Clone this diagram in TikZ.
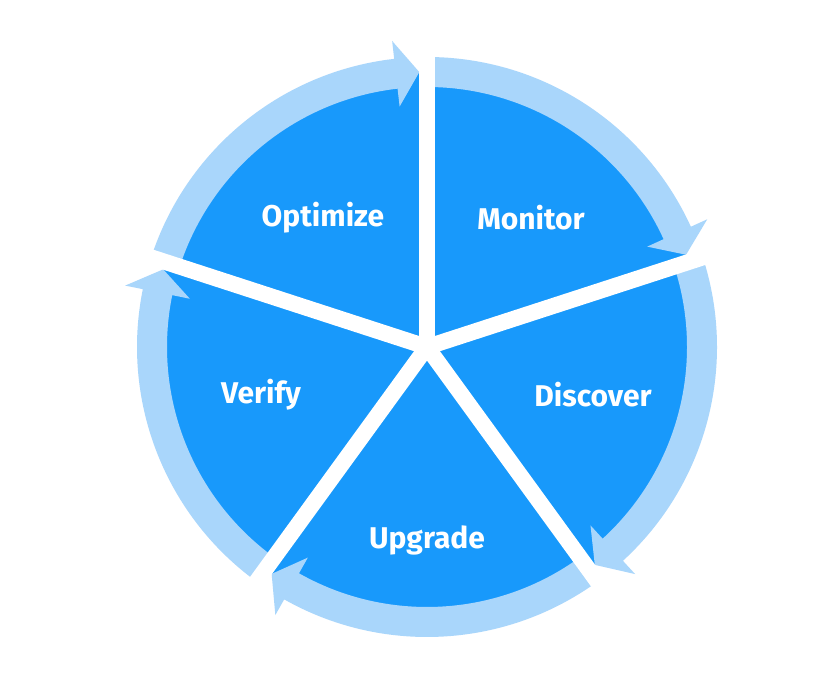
\documentclass[tikz,border=0pt]{standalone}
\usepackage{fontspec}
\setmainfont{Fira Sans}
\definecolor{pieblue}{HTML}{1899FB}
\definecolor{ringblue}{HTML}{A9D6FB}
\begin{document}
\begin{tikzpicture}[x=1pt,y=1pt,
  lbl/.style={text=white,font=\fontsize{30}{34}\selectfont\bfseries}]
\useasboundingbox (0,0) rectangle (840,684);
\fill[white] (0,0) rectangle (840,684);
\begin{scope}[shift={(427,337)}]
\fill[pieblue] (0,0) circle[radius=275pt];
\foreach \th in {90,18,-54,-126,162}{
  \pgfmathsetmacro{\s}{\th-1}
  \pgfmathsetmacro{\b}{\th-72+6.5}
  \pgfmathsetmacro{\t}{\th-72+1.6}
  \fill[ringblue] (\s:260pt) arc[start angle=\s,end angle=\b,radius=260pt]
    -- (\b:242pt) -- (\t:275pt) -- (\b:308pt) -- (\b:290pt)
    arc[start angle=\b,end angle=\s,radius=290pt] -- cycle;
}
\foreach \th in {90,18,-54,-126,162}{
  \draw[white,line width=16pt] (0,0) -- (\th:300pt);
}
\fill[white] (0,0) circle[radius=12pt];
\end{scope}
\node[lbl] (opt) at (323,466) {Optimize};
\node[lbl] (mon) at (531,466) {Monitor};
\node[lbl] (dis) at (593,289) {Discover};
\node[lbl] (ver) at (261,289) {Verify};
\node[lbl] (upg) at (427,144) {Upgrade};
\end{tikzpicture}
\end{document}
